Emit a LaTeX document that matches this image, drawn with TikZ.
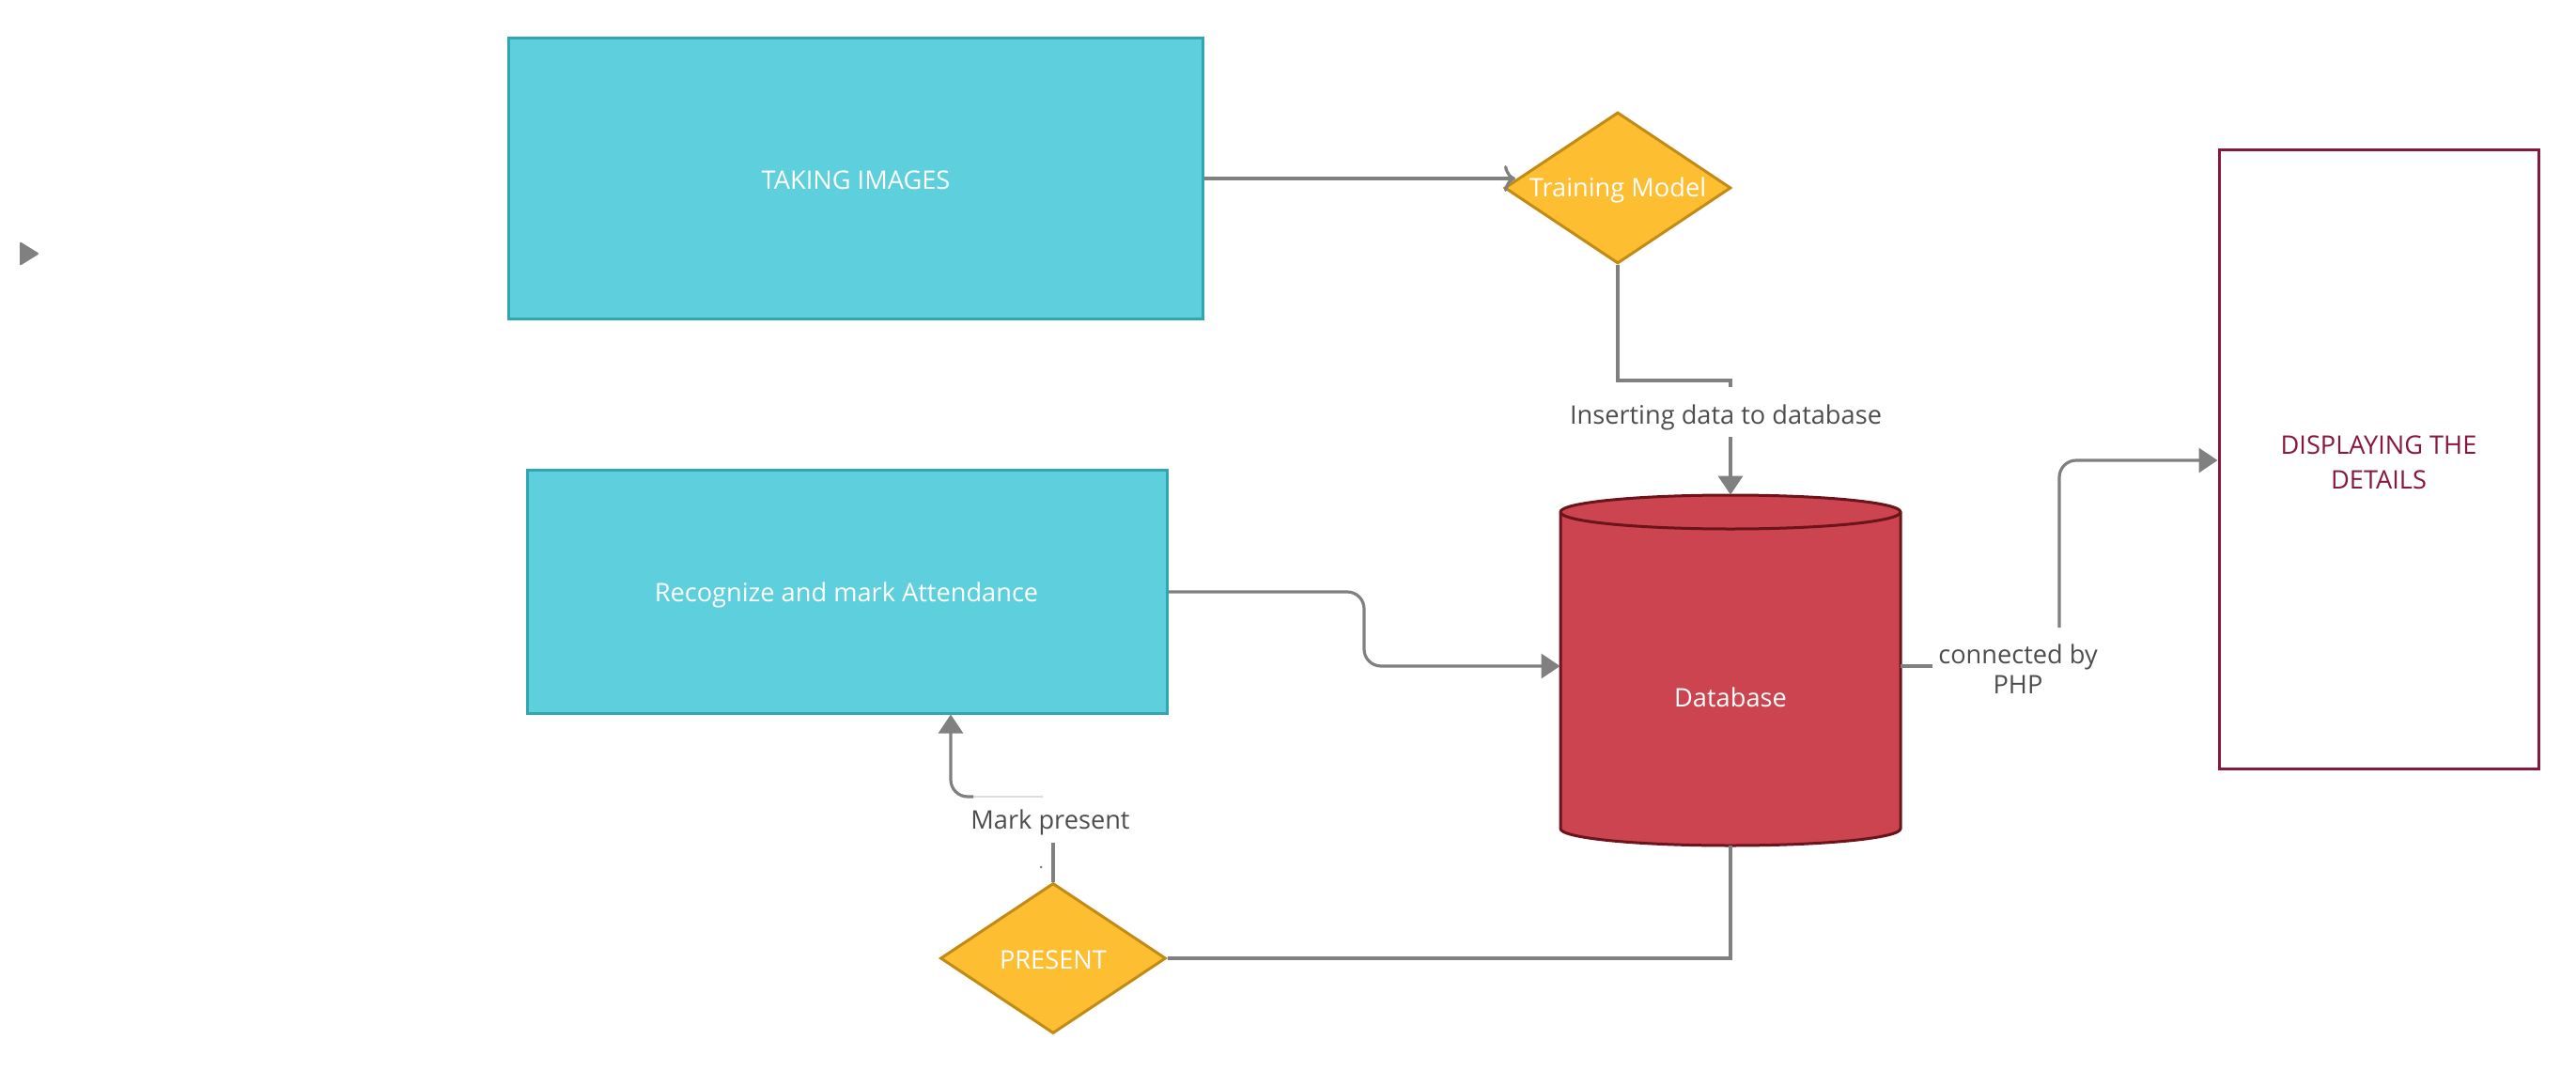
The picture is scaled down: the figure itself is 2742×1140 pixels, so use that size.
\documentclass[tikz,border=0pt]{standalone}
\usepackage{fontspec}
\setmainfont{Open Sans}
\usetikzlibrary{arrows.meta,shapes.geometric,calc}
\definecolor{tealfill}{HTML}{5ECFDC}
\definecolor{tealline}{HTML}{2FA6B0}
\definecolor{yelfill}{HTML}{FDBE31}
\definecolor{yelline}{HTML}{C28B16}
\definecolor{dbfill}{HTML}{CB444F}
\definecolor{dbline}{HTML}{6B141B}
\definecolor{maroon}{HTML}{86173E}
\definecolor{conngray}{HTML}{808080}
\definecolor{labgray}{HTML}{4D4D4D}
\definecolor{faint}{HTML}{DDDDDD}
\tikzset{
  procbox/.style={draw=tealline, fill=tealfill, line width=1.5pt, text=white, inner sep=0pt, font=\fontsize{13.6}{16}\selectfont},
  decbox/.style={diamond, draw=yelline, fill=yelfill, line width=1.5pt, inner sep=0pt, label={[text=white, font=\fontsize{13.6}{16}\selectfont, yshift=-1pt]center:#1}},
  conn/.style={draw=conngray, line width=1.6pt},
  tip/.style={-{Triangle[length=10pt,width=13pt]}},
  lab/.style={text=labgray, font=\fontsize{13.6}{16}\selectfont, align=center, inner sep=0pt},
}
\begin{document}
\begin{tikzpicture}[x=0.5pt,y=-0.5pt]
\useasboundingbox (0,0) rectangle (2742,1140);
% left marker
\fill[conngray, rounded corners=1pt] (21,257) -- (42,270) -- (21,283) -- cycle;
% boxes
\node[procbox, minimum width=369.5pt, minimum height=149.5pt] (taking) at (910.5,189.5) {};
\node[text=white, font=\fontsize{13.6}{16}\selectfont] at (911,192) {TAKING IMAGES};
\node[procbox, minimum width=340.5pt, minimum height=129.5pt] (recog) at (901.5,629.5) {};
\node[text=white, font=\fontsize{13.6}{16}\selectfont] at (901,633) {Recognize and mark Attendance};
\node[draw=maroon, line width=1.5pt, minimum width=170pt, minimum height=329.5pt] (disp) at (2532,488.5) {};
\node[text=maroon, align=center, font=\fontsize{13.6}{18.5}\selectfont] at (2532,492) {DISPLAYING THE\\DETAILS};
\node[decbox={Training Model}, minimum width=120.5pt, minimum height=80.5pt] (train) at (1722,200) {};
\node[decbox={PRESENT}, minimum width=120pt, minimum height=80pt] (present) at (1121,1020) {};
% database cylinder
\path[draw=dbline, fill=dbfill, line width=1.5pt] (1661,545) -- (1661,882) .. controls (1661,892) and (1742,900) .. (1842,900) .. controls (1942,900) and (2023,892) .. (2023,882) -- (2023,545) .. controls (2023,535) and (1942,527) .. (1842,527) .. controls (1742,527) and (1661,535) .. (1661,545) -- cycle;
\draw[dbline, line width=1.5pt] (1661,545) .. controls (1661,555) and (1742,563) .. (1842,563) .. controls (1942,563) and (2023,555) .. (2023,545);
\node[minimum width=181pt, minimum height=186.5pt, inner sep=0pt, label={[text=white, font=\fontsize{13.6}{16}\selectfont, yshift=-14.5pt]center:Database}] (db) at (1842,713.5) {};
% labels
\node[lab] (ins) at (1837,444) {Inserting data to database};
\node[lab] (php) at (2148,712) {connected by\\PHP};
\node[lab] (mark) at (1118,875) {Mark present};
% connectors
\draw[conn, -{To[length=6pt,width=14pt]}] (taking.east |- 0,190) -- (1613,190);
\coordinate (i1) at (1842,412);
\coordinate (i2) at (1842,465);
\draw[conn] (train.south) |- (1842,405) -- (i1);
\draw[conn, tip] (i2) -- (db.north);
\draw[conn, tip, rounded corners=9pt] (recog.east |- 0,630) -- (1452,630) -- (1452,709) -- (db.west |- 0,709);
\coordinate (p1) at (2057,709);
\coordinate (p2) at (2192,668);
\draw[conn] (db.east |- 0,709) -- (p1);
\draw[conn, tip, rounded corners=9pt] (p2) -- (2192,490) -- (disp.west |- 0,490);
\coordinate (m1) at (1121,897);
\draw[conn] (present.north) -- (m1);
\draw[faint, line width=0.8pt] (1110,848) -- (1036,848);
\draw[conn, tip, rounded corners=9pt] (1036,848) -- (1012,848) -- (recog.south -| 1012,0);
\fill[conngray] (1108,923) circle (1.5);
\draw[conn] (present.east) -| (db.south);
\end{tikzpicture}
\end{document}
